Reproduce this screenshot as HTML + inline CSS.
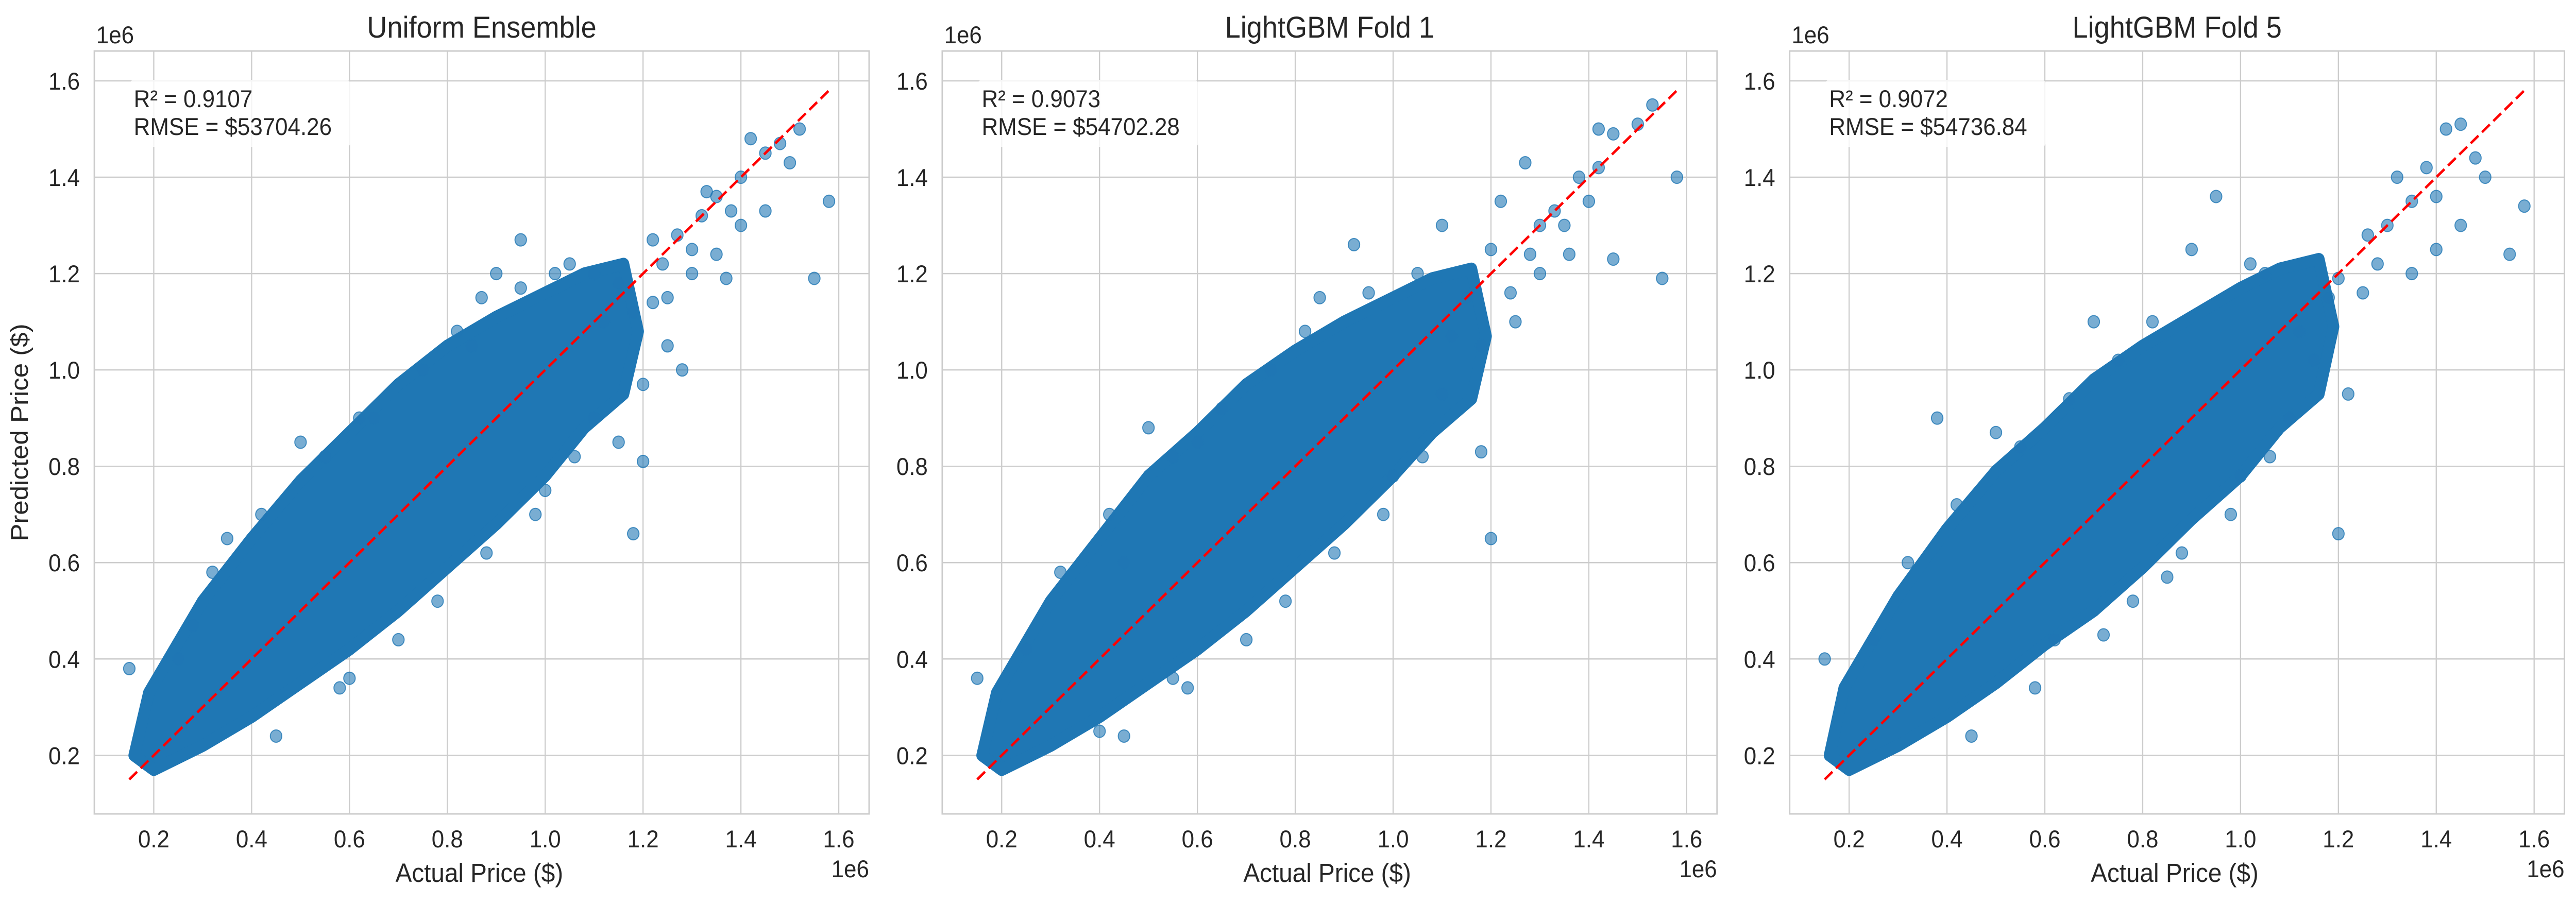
<!DOCTYPE html>
<html><head><meta charset="utf-8">
<style>
html,body{margin:0;padding:0;background:#fff;overflow:hidden;width:100%;height:100%;}
svg{display:block;width:100vw;height:100vh;font-family:"Liberation Sans",Arial,sans-serif;}
</style></head>
<body>
<svg id="fig" width="5353" height="1753" viewBox="0 0 5353 1753" preserveAspectRatio="none" xmlns="http://www.w3.org/2000/svg"></svg>
<script>
// ---- data ----
const panelTitles = ["Uniform Ensemble", "LightGBM Fold 1", "LightGBM Fold 5"];
const r2Values = ["0.9107", "0.9073", "0.9072"];
const rmseValues = ["53704.26", "54702.28", "54736.84"];
const tickValues = [0.2, 0.4, 0.6, 0.8, 1.0, 1.2, 1.4, 1.6];
const tickLabels = ["0.2", "0.4", "0.6", "0.8", "1.0", "1.2", "1.4", "1.6"];
const idealLine = [0.15, 1.58];
// dense band edges (actual, predicted) in millions
const bandUpper = [
 [[0.16,0.20],[0.19,0.33],[0.30,0.52],[0.40,0.65],[0.50,0.77],[0.60,0.87],[0.70,0.97],[0.80,1.05],[0.90,1.11],[1.00,1.16],[1.08,1.20],[1.16,1.22]],
 [[0.16,0.20],[0.19,0.33],[0.30,0.52],[0.40,0.65],[0.50,0.78],[0.60,0.87],[0.70,0.97],[0.80,1.04],[0.90,1.10],[1.00,1.15],[1.08,1.19],[1.16,1.21]],
 [[0.16,0.20],[0.19,0.34],[0.30,0.53],[0.40,0.67],[0.50,0.79],[0.60,0.88],[0.70,0.98],[0.80,1.05],[0.90,1.11],[1.00,1.17],[1.08,1.21],[1.16,1.23]]
];
const bandLower = [
 [[1.19,1.08],[1.16,0.95],[1.08,0.88],[1.00,0.78],[0.90,0.68],[0.80,0.59],[0.70,0.50],[0.60,0.42],[0.50,0.35],[0.40,0.28],[0.30,0.22],[0.20,0.17]],
 [[1.19,1.07],[1.16,0.94],[1.08,0.87],[1.00,0.78],[0.90,0.68],[0.80,0.59],[0.70,0.50],[0.60,0.42],[0.50,0.35],[0.40,0.28],[0.30,0.22],[0.20,0.17]],
 [[1.19,1.09],[1.16,0.95],[1.08,0.88],[1.00,0.78],[0.90,0.69],[0.80,0.59],[0.70,0.50],[0.60,0.43],[0.50,0.35],[0.40,0.28],[0.30,0.22],[0.20,0.17]]
];
const actual0 = [0.15,1.58,1.55,1.45,1.42,1.40,1.38,1.33,1.30,1.22,1.18,1.20,1.18,1.20,1.25,1.27,1.48,1.50,1.52,1.45,1.37,0.95,0.87,0.90,1.05,1.10,1.15,0.35,0.50,0.60,0.65,0.85,1.00,1.30,1.35,1.10,1.12,1.25,1.28,1.15,1.32,1.24,1.40,1.22,1.35,0.32,0.42,0.55,0.62,0.75,0.82,0.95,1.02,0.45,0.58,0.70,0.78,0.88,0.98,1.06,0.25,0.28];
const pred0   = [0.38,1.35,1.19,1.45,1.48,1.30,1.33,1.37,1.20,1.27,1.12,0.97,0.66,0.81,1.15,1.28,1.47,1.43,1.50,1.33,1.19,1.27,1.15,1.20,1.22,0.90,0.85,0.65,0.85,0.36,0.90,1.05,0.75,1.25,1.36,1.20,1.10,1.05,1.00,1.18,1.32,1.22,1.40,1.14,1.24,0.58,0.70,0.82,0.90,1.00,1.08,1.17,1.20,0.24,0.34,0.44,0.52,0.62,0.70,0.82,0.40,0.47];
const actual1 = [0.15,1.58,1.55,1.50,1.53,1.45,1.42,1.45,1.20,1.18,1.40,1.35,1.30,1.27,1.22,0.92,0.85,0.50,0.40,0.45,0.60,1.00,1.10,1.15,1.20,1.25,1.30,1.38,1.05,1.10,0.55,1.33,1.42,1.28,1.36,1.24,1.18,1.12,0.32,0.42,0.55,0.65,0.75,0.82,0.95,0.45,0.58,0.70,0.78,0.88,0.98,1.06,0.25];
const pred1   = [0.36,1.40,1.19,1.51,1.55,1.49,1.50,1.23,0.65,0.83,1.35,1.30,1.30,1.43,1.35,1.26,1.15,0.88,0.25,0.60,0.85,0.78,0.95,1.15,1.25,1.10,1.20,1.40,1.20,1.30,0.36,1.33,1.42,1.24,1.24,1.16,1.05,1.07,0.58,0.70,0.82,0.92,1.00,1.08,1.16,0.24,0.34,0.44,0.52,0.62,0.70,0.82,0.42];
const actual2 = [0.15,1.58,1.55,1.50,1.45,1.48,1.42,1.40,1.35,1.40,1.20,1.22,1.25,1.30,1.28,1.32,0.95,0.90,0.70,0.38,0.50,0.85,1.00,1.10,1.15,1.18,1.05,1.35,1.45,0.62,1.26,1.38,1.12,1.20,0.32,0.42,0.55,0.65,0.75,0.82,1.02,0.45,0.58,0.72,0.78,0.88,0.98,1.06,0.25];
const pred2   = [0.40,1.34,1.24,1.40,1.51,1.44,1.50,1.25,1.20,1.36,0.66,0.95,1.16,1.30,1.22,1.40,1.36,1.25,1.10,0.90,0.87,0.57,0.78,0.90,1.02,1.15,1.20,1.35,1.30,0.44,1.28,1.42,1.08,1.19,0.60,0.72,0.84,0.94,1.02,1.10,1.22,0.24,0.34,0.45,0.52,0.62,0.70,0.82,0.44];
const actualSets = [actual0, actual1, actual2];
const predSets = [pred0, pred1, pred2];

// ---- layout ----
const NS = "http://www.w3.org/2000/svg";
const svg = document.getElementById("fig");
const panelLeft = [196, 1958, 3719];
const PW = 1610, TOP = 99, BOT = 1580;
const DMIN = 0.0785, DMAX = 1.662;
const BLUE = "#1f77b4";

function mk(tag, attrs, parent) {
  const e = document.createElementNS(NS, tag);
  for (const k in attrs) e.setAttribute(k, attrs[k]);
  (parent || svg).appendChild(e);
  return e;
}

for (let p = 0; p < 3; p++) {
  const L = panelLeft[p];
  const xs = v => L + (v - DMIN) / (DMAX - DMIN) * PW;
  const ys = v => BOT - (v - DMIN) / (DMAX - DMIN) * (BOT - TOP);
  const g = mk("g", {});
  
  

  tickValues.forEach((t, i) => {
    const gx = mk("line", {x1: xs(t), x2: xs(t), y1: TOP, y2: BOT, stroke: "#cccccc", "stroke-width": 2.5}, g);
    
    
    const gy = mk("line", {x1: L, x2: L + PW, y1: ys(t), y2: ys(t), stroke: "#cccccc", "stroke-width": 2.5}, g);
    
    
    const tx = mk("text", {x: xs(t), y: 1645, "font-size": 47, fill: "#262626", "text-anchor": "middle"}, g);
    tx.textContent = tickLabels[i];
    
    
    const ty = mk("text", {x: L - 30, y: ys(t) + 17, "font-size": 47, fill: "#262626", "text-anchor": "end"}, g);
    ty.textContent = tickLabels[i];
    
    
  });

  const pts = bandUpper[p].concat(bandLower[p]).map(d => xs(d[0]) + "," + ys(d[1])).join(" ");
  const band = mk("polygon", {points: pts, fill: BLUE, stroke: BLUE, "stroke-width": 24, "stroke-linejoin": "round"}, g);
  
  

  const A = actualSets[p], P = predSets[p];
  for (let i = 0; i < A.length; i++) {
    const c = mk("circle", {cx: xs(A[i]), cy: ys(P[i]), r: 12, fill: BLUE, "fill-opacity": 0.6, stroke: BLUE, "stroke-opacity": 0.8, "stroke-width": 2}, g);
    
    
  }

  const ln = mk("line", {x1: xs(idealLine[0]), y1: ys(idealLine[0]), x2: xs(idealLine[1]), y2: ys(idealLine[1]), stroke: "#ff0000", "stroke-width": 5, "stroke-dasharray": "22,10"}, g);
  
  

  const fr = mk("rect", {x: L, y: TOP, width: PW, height: BOT - TOP, fill: "none", stroke: "#cccccc", "stroke-width": 3}, g);
  
  

  const bx = mk("rect", {x: L + 74, y: 155, width: 458, height: 130, rx: 8, fill: "#ffffff", "fill-opacity": 0.8}, g);
  
  
  const t1 = mk("text", {x: L + 82, y: 208, "font-size": 47, fill: "#262626"}, g);
  t1.textContent = "R² = " + r2Values[p];
  
  
  const t2 = mk("text", {x: L + 82, y: 262, "font-size": 47, fill: "#262626"}, g);
  t2.textContent = "RMSE = $" + rmseValues[p];
  
  

  const tt = mk("text", {x: L + PW / 2, y: 73, "font-size": 58, fill: "#262626", "text-anchor": "middle"}, g);
  tt.textContent = panelTitles[p];
  
  
  const oy = mk("text", {x: L + 4, y: 84, "font-size": 47, fill: "#262626"}, g);
  oy.textContent = "1e6";
  
  
  const ox = mk("text", {x: L + PW, y: 1703, "font-size": 47, fill: "#262626", "text-anchor": "end"}, g);
  ox.textContent = "1e6";
  
  
  const xl = mk("text", {x: L + PW / 2 - 5, y: 1712, "font-size": 51, fill: "#262626", "text-anchor": "middle"}, g);
  xl.textContent = "Actual Price ($)";
  
  
  if (p === 0) {
    const yl = mk("text", {x: 0, y: 0, "font-size": 51, fill: "#262626", "text-anchor": "middle", transform: "translate(58," + ((TOP + BOT) / 2) + ") rotate(-90)"}, g);
    yl.textContent = "Predicted Price ($)";
    
    
  }
}
</script>
</body></html>
